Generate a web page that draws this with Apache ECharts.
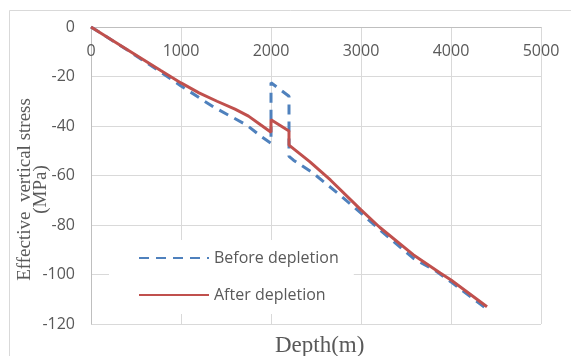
<!DOCTYPE html>
<html>
<head>
<meta charset="utf-8">
<script src="https://cdn.jsdelivr.net/npm/echarts@6/dist/echarts.min.js"></script>
<style>
  html, body { margin: 0; padding: 0; background: #fff; }
  #chart { width: 571px; height: 356px; }
</style>
</head>
<body>
<div id="chart"></div>
<script>
// depth (m) and effective vertical stress (MPa)
const depthBefore = [0, 400, 770, 1000, 1360, 1730, 1900, 2000, 2000, 2200, 2200, 2250, 2470, 2770, 3000, 3210, 3580, 3840, 4000, 4400];
const stressBefore = [0, -9.2, -18.1, -23.8, -32.3, -39.6, -44.5, -47, -22.5, -28, -52.3, -53.8, -59.1, -68, -75.2, -82, -93.4, -98.8, -103, -114];

const depthAfter = [0, 400, 770, 1000, 1200, 1400, 1600, 1750, 1880, 2000, 2000, 2200, 2200, 2430, 2660, 3000, 3210, 3580, 3880, 4000, 4400];
const stressAfter = [0, -9.1, -17.5, -22.6, -26.6, -30, -33.2, -36.0, -39.4, -42.5, -37.5, -42, -47.7, -54.4, -61.8, -73.9, -81, -92, -99.4, -102.2, -113];

const seriesNames = ['Before depletion', 'After depletion'];
const xTicks = [0, 1000, 2000, 3000, 4000, 5000];
const yTicks = [-120, -100, -80, -60, -40, -20, 0];

const zip = (xs, ys) => xs.map((x, i) => [x, ys[i]]);

const chart = echarts.init(document.getElementById('chart'));
const labelFont = { fontFamily: 'Open Sans', fontSize: 16, color: '#595959' };

chart.setOption({
  animation: false,
  backgroundColor: '#fff',
  grid: {
    left: 91, top: 27, width: 450, height: 297,
    containLabel: false,
    outerBoundsMode: 'none'
  },
  legend: {
    orient: 'vertical',
    left: 109,
    top: 240,
    width: 246,
    backgroundColor: '#fff',
    padding: [10, 15, 11, 29],
    itemWidth: 70,
    itemHeight: 14,
    itemGap: 21,
    itemStyle: { opacity: 0 },
    textStyle: labelFont,
    data: seriesNames
  },
  xAxis: {
    type: 'value',
    position: 'top',
    min: xTicks[0],
    max: xTicks[xTicks.length - 1],
    interval: 1000,
    axisLine: { show: true, onZero: false, lineStyle: { color: '#bfbfbf', width: 1 } },
    axisTick: { show: false },
    axisLabel: { inside: true, margin: 16, formatter: v => String(v), ...labelFont },
    splitLine: { show: true, lineStyle: { color: '#d9d9d9', width: 1 } }
  },
  yAxis: {
    type: 'value',
    min: yTicks[0],
    max: yTicks[yTicks.length - 1],
    interval: 20,
    name: 'Effective  vertical stress\n(MPa)',
    nameLocation: 'middle',
    nameRotate: 90,
    nameGap: 42,
    nameMoveOverlap: false,
    nameTextStyle: {
      fontFamily: 'Liberation Serif',
      fontSize: 19,
      lineHeight: 16,
      padding: [0, 28, 0, 0],
      color: '#595959'
    },
    axisLine: { show: true, onZero: false, lineStyle: { color: '#bfbfbf', width: 1 } },
    axisTick: { show: false },
    axisLabel: { margin: 16, formatter: v => String(v), ...labelFont },
    splitLine: { show: true, lineStyle: { color: '#d9d9d9', width: 1 } }
  },
  graphic: [
    {
      type: 'rect',
      z: -1,
      silent: true,
      shape: { x: 9.5, y: 10.5, width: 600, height: 400 },
      style: { fill: 'none', stroke: '#d9d9d9', lineWidth: 1 }
    },
    {
      type: 'text',
      left: 275,
      top: 334,
      style: {
        text: 'Depth(m)',
        font: '23px "Liberation Serif"',
        fill: '#595959'
      }
    }
  ],
  series: [
    {
      name: seriesNames[0],
      type: 'line',
      symbol: 'none',
      data: zip(depthBefore, stressBefore),
      lineStyle: { color: '#4f81bd', width: 3, type: [10, 7] },
      itemStyle: { color: '#4f81bd' },
      z: 2
    },
    {
      name: seriesNames[1],
      type: 'line',
      symbol: 'none',
      data: zip(depthAfter, stressAfter),
      lineStyle: { color: '#c0504d', width: 3 },
      itemStyle: { color: '#c0504d' },
      z: 3
    }
  ]
});
</script>
</body>
</html>
